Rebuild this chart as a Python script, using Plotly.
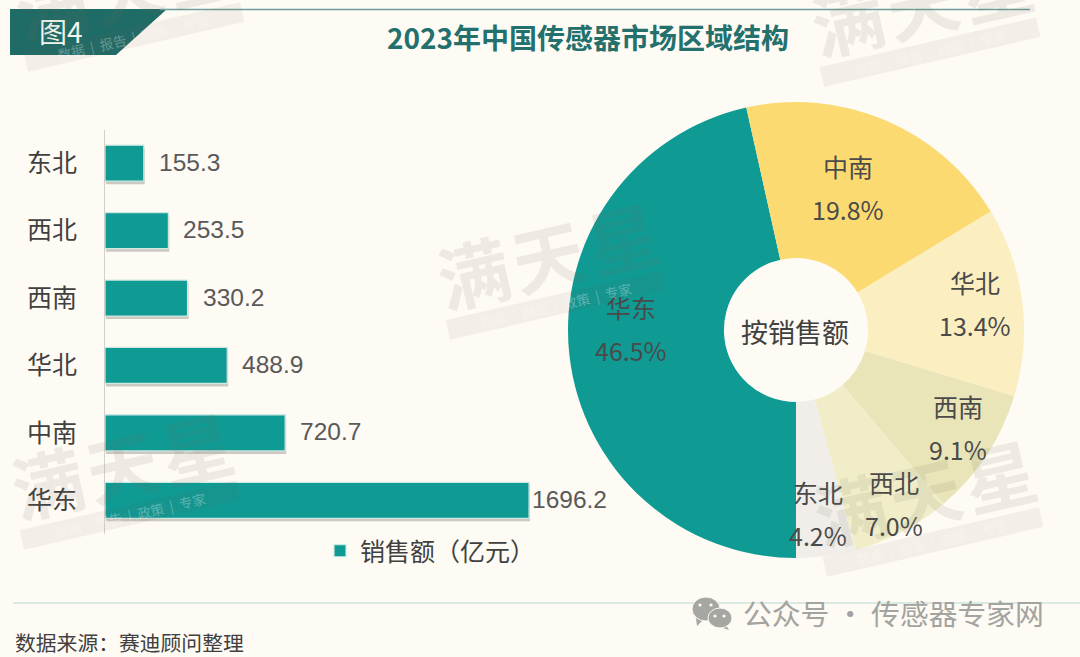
import math
import plotly.graph_objects as go

# ---------- data ----------
bar_categories = ["东北", "西北", "西南", "华北", "中南", "华东"]
bar_values = [155.3, 253.5, 330.2, 488.9, 720.7, 1696.2]
bar_labels = ["155.3", "253.5", "330.2", "488.9", "720.7", "1696.2"]
bar_series_name = "销售额（亿元）"

pie_categories = ["华东", "中南", "华北", "西南", "西北", "东北"]
pie_shares = [46.5, 19.8, 13.4, 9.1, 7.0, 4.2]
pie_share_labels = ["46.5%", "19.8%", "13.4%", "9.1%", "7.0%", "4.2%"]
pie_colors = ["#0F9A94", "#FCDA72", "#FBEEC0", "#E9E5B8", "#F1EDC9", "#F1EEE9"]

title_text = "2023年中国传感器市场区域结构"
tag_text = "图4"
center_text = "按销售额"
source_text = "数据来源：赛迪顾问整理"
account_text = "公众号 · 传感器专家网"
watermark_main = "满天星"
watermark_sub = "数据\u00a0\u00a0|\u00a0\u00a0报告\u00a0\u00a0|\u00a0\u00a0政策\u00a0\u00a0|\u00a0\u00a0专家"

# ---------- layout constants ----------
W, H = 1080, 657
BG = "#FEFAF4"
CJK = "Noto Sans CJK SC"
LAT = "Liberation Sans, Noto Sans CJK SC"
TEAL = "#0F9A94"
DARK = "#404040"
ICON = "#A6A6A3"


def px(x):
    return x / W


def py(y):
    return 1 - y / H


label_pos = {"华东": (631, 328), "中南": (848, 187), "华北": (975, 303),
             "西南": (958, 427), "西北": (894, 503), "东北": (817.5, 513)}
label_shift = {"1696.2": 1}

fig = go.Figure()

# soft drop shadow of the bars: same data on the lower axis pair
fig.add_trace(go.Bar(
    x=bar_values, y=bar_categories, orientation="h",
    marker=dict(color="rgba(90,90,80,0.30)", line=dict(width=0)),
    showlegend=False, hoverinfo="skip"))
fig.add_trace(go.Bar(
    x=bar_values, y=bar_categories, orientation="h", name=bar_series_name,
    xaxis="x2", yaxis="y2",
    marker=dict(color=TEAL, line=dict(color="#CFE9E2", width=1.2)),
    showlegend=True, hoverinfo="x+y"))

# pie
R = 228
cx, cy = 796, 330
fig.add_trace(go.Pie(
    labels=pie_categories, values=pie_shares, sort=False, direction="clockwise",
    rotation=180, hole=0.316, textinfo="none", showlegend=False,
    marker=dict(colors=pie_colors, line=dict(width=0)),
    domain=dict(x=[px(cx - R), px(cx + R)], y=[py(cy + R), py(cy - R)])))

annotations = []


def text(x, y, t, size, color, family=CJK, anchor="center", angle=0, bold=False):
    annotations.append(dict(
        xref="paper", yref="paper", x=px(x), y=py(y), text=f"<b>{t}</b>" if bold else t,
        showarrow=False, xanchor=anchor, yanchor="middle", textangle=angle,
        font=dict(size=size, color=color, family=family)))


# bar value labels, positioned through the data axes
for cat, val, lab in zip(bar_categories, bar_values, bar_labels):
    annotations.append(dict(
        xref="x2", yref="y2", x=val, y=cat, text=lab, showarrow=False, xanchor="left",
        xshift=label_shift.get(lab, 13), yshift=1,
        font=dict(size=24.5, color="#595959", family=LAT)))

# pie labels
for cat, lab in zip(pie_categories, pie_share_labels):
    x, y = label_pos[cat]
    text(x, y - 21, cat, 25, "#4A4A4A")
    text(x, y + 22, lab, 25, "#4A4A4A")

text(795, 331, center_text, 27, "#404040")
text(588, 37, title_text, 28, "#23706C", bold=True)
text(61, 31, tag_text, 28, "#F2F5EE")
text(13, 642, source_text, 20.8, DARK, anchor="left")
text(741, 612, account_text, 28.8, "#A3A3A0", anchor="left")

shapes = [
    dict(type="path", xref="paper", yref="paper", line=dict(width=0), fillcolor="#1F6B66",
         path=f"M{px(10)},{py(9)} L{px(167)},{py(9)} L{px(116)},{py(55)} L{px(10)},{py(55)} Z"),
    dict(type="line", xref="paper", yref="paper", x0=px(160), x1=px(1030), y0=py(9.5), y1=py(9.5),
         line=dict(color="#6E9F9B", width=1.5)),
    dict(type="line", xref="paper", yref="paper", x0=px(13), x1=px(1080), y0=py(603), y1=py(603),
         line=dict(color="#B4D8D2", width=1.2)),
]

# WeChat mark
for ex, ey, rx, ry, tail in [(706, 609, 14, 12, (696, 618, 697, 626, 703, 620)),
                             (720, 618, 12, 10, (726, 625, 729, 630, 720, 627))]:
    t = tail
    shapes.append(dict(type="path", xref="paper", yref="paper", fillcolor=ICON, line=dict(width=0),
                       path=f"M{px(t[0])},{py(t[1])} L{px(t[2])},{py(t[3])} L{px(t[4])},{py(t[5])} Z"))
    shapes.append(dict(type="circle", xref="paper", yref="paper", fillcolor=ICON,
                       line=dict(color=BG, width=1),
                       x0=px(ex - rx), x1=px(ex + rx), y0=py(ey - ry), y1=py(ey + ry)))
for ex, ey in [(700, 605), (711, 605), (715, 616), (724, 616)]:
    shapes.append(dict(type="circle", xref="paper", yref="paper", fillcolor=BG, line=dict(width=0),
                       x0=px(ex - 1.6), x1=px(ex + 1.6), y0=py(ey - 1.6), y1=py(ey + 1.6)))


# watermarks
def watermark(x, y):
    a = math.radians(-13)
    bx, by = x + 9, y + 52
    hw, hh = 111, 10
    pts = []
    for dx, dy in [(-hw, -hh), (hw, -hh), (hw, hh), (-hw, hh)]:
        pts.append((bx + dx * math.cos(a) - dy * math.sin(a), by + dx * math.sin(a) + dy * math.cos(a)))
    path = "M" + " L".join(f"{px(p[0])},{py(p[1])}" for p in pts) + " Z"
    shapes.append(dict(type="path", xref="paper", yref="paper", path=path,
                       fillcolor="rgba(110,105,95,0.08)", line=dict(width=0), layer="above"))
    text(x, y, "&#8202;".join(watermark_main), 72, "rgba(110,105,95,0.11)", angle=-13, bold=True)
    text(bx, by, watermark_sub, 13.5, "rgba(255,255,255,0.3)", angle=-13)


for wx, wy in [(121, 463), (547, 253), (924, 490), (921, 0), (125, -15)]:
    watermark(wx, wy)

y0_px, y1_px = 534, 129.5
dom_x = [px(105), px(605)]
common_y = dict(type="category", categoryorder="array", categoryarray=bar_categories, autorange="reversed")

fig.update_layout(
    width=W, height=H, margin=dict(l=0, r=0, t=0, b=0, pad=0),
    paper_bgcolor=BG, plot_bgcolor="rgba(0,0,0,0)",
    barmode="overlay", bargap=0.466,
    font=dict(family=CJK, color=DARK),
    xaxis=dict(domain=[px(106), px(606)], range=[0, 2000], visible=False),
    yaxis=dict(domain=[py(y0_px + 3), py(y1_px + 3)], visible=False, **common_y),
    xaxis2=dict(domain=dom_x, range=[0, 2000], visible=False, anchor="y2"),
    yaxis2=dict(domain=[py(y0_px), py(y1_px)], anchor="x2", showline=True, linecolor="#D2D0CA", linewidth=1.2,
                ticks="", showgrid=False, zeroline=False, ticklabelstandoff=22,
                tickfont=dict(size=25, color=DARK, family=CJK), **common_y),
    legend=dict(x=px(320), y=py(551), xanchor="left", yanchor="middle", orientation="h",
                bgcolor="rgba(0,0,0,0)", font=dict(size=25, color=DARK, family=CJK),
                itemwidth=30),
    annotations=annotations, shapes=shapes,
)

fig.write_html("out.html", config=dict(displayModeBar=False),
               post_script="document.body.style.margin='0';document.body.style.background='%s';" % BG)
